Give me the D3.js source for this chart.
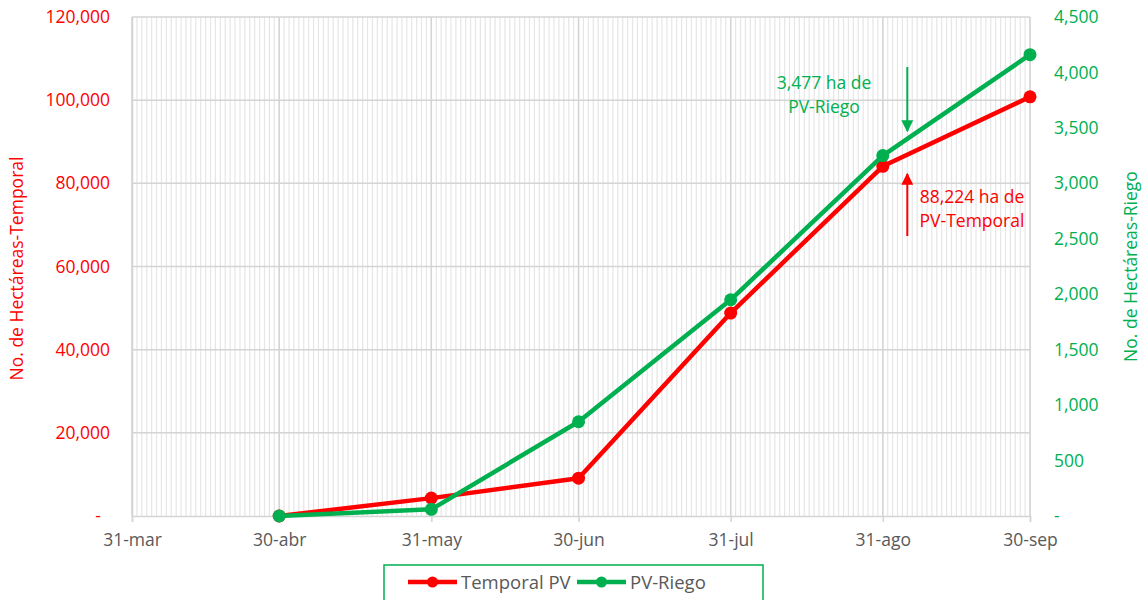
<!DOCTYPE html>
<html>
<head>
<meta charset="utf-8">
<script src="https://cdn.jsdelivr.net/npm/d3@7"></script>
<style>
  body { margin: 0; background: #fff; }
  svg { display: block; font-family: 'Open Sans', sans-serif; }
</style>
</head>
<body>
<svg id="chart" width="1145" height="600"></svg>
<script>
// fechas de corte (dia-mes), año arbitrario
const dates = ['2023-04-30', '2023-05-31', '2023-06-30', '2023-07-31', '2023-08-31', '2023-09-30']
const temporalPV = [0, 4300, 9100, 48800, 84100, 100800]
const riegoPV = [0, 60, 850, 1950, 3250, 4160]
const tickDates = ['2023-03-31', '2023-04-30', '2023-05-31', '2023-06-30', '2023-07-31', '2023-08-31', '2023-09-30']
const tickLabels = ['31-mar', '30-abr', '31-may', '30-jun', '31-jul', '31-ago', '30-sep']
const leftTicks = [0, 20000, 40000, 60000, 80000, 100000, 120000]
const rightTicks = [0, 500, 1000, 1500, 2000, 2500, 3000, 3500, 4000, 4500]

const red = '#ff0000'
const green = '#00b050'
const parse = d3.utcParse('%Y-%m-%d')

const svg = d3.select('#chart')
const pLeft = 132, pRight = 1030, pTop = 17, pBottom = 516

const x = d3.scaleUtc()
  .domain([parse(tickDates[0]), parse(tickDates[tickDates.length - 1])])
  .range([pLeft, pRight])
const yL = d3.scaleLinear().domain([0, 120000]).range([pBottom, pTop])
const yR = d3.scaleLinear().domain([0, 4500]).range([pBottom, pTop])

const fmt = d3.format(',')

// rejilla diaria
const days = d3.utcDay.range(x.domain()[0], d3.utcDay.offset(x.domain()[1], 1))
svg.append('g')
  .selectAll('line')
  .data(days)
  .join('line')
  .attr('x1', d => x(d)).attr('x2', d => x(d))
  .attr('y1', pTop).attr('y2', pBottom)
  .attr('stroke', '#e6e6e6')
  .attr('stroke-width', 1.2)

// rejilla horizontal
svg.append('g')
  .selectAll('line')
  .data(leftTicks.slice(1))
  .join('line')
  .attr('x1', pLeft).attr('x2', pRight)
  .attr('y1', d => yL(d)).attr('y2', d => yL(d))
  .attr('stroke', '#d4d4d4')
  .attr('stroke-width', 1.5)

// rejilla mensual
svg.append('g')
  .selectAll('line')
  .data(tickDates)
  .join('line')
  .attr('x1', d => x(parse(d))).attr('x2', d => x(parse(d)))
  .attr('y1', pTop).attr('y2', pBottom)
  .attr('stroke', '#d4d4d4')
  .attr('stroke-width', 1.5)

// eje x
const xAxis = svg.append('g')
  .attr('transform', `translate(0,${pBottom})`)
  .call(d3.axisBottom(x)
    .tickValues(tickDates.map(parse))
    .tickFormat((d, i) => tickLabels[i])
    .tickSize(6)
    .tickPadding(12))
xAxis.select('.domain').attr('stroke', '#d4d4d4').attr('stroke-width', 1.5)
xAxis.selectAll('.tick line').attr('stroke', '#d4d4d4').attr('stroke-width', 1.5)
xAxis.selectAll('.tick text')
  .attr('fill', '#595959')
  .style('font-size', '17.5px')
  .style('font-family', "'Open Sans', sans-serif")

// eje izquierdo
const lAxis = svg.append('g')
  .attr('transform', `translate(${pLeft},0)`)
  .call(d3.axisLeft(yL)
    .tickValues(leftTicks)
    .tickFormat(d => d === 0 ? '-  ' : fmt(d))
    .tickSize(0)
    .tickPadding(22))
lAxis.select('.domain').attr('stroke', '#d4d4d4').attr('stroke-width', 1.5)
lAxis.selectAll('.tick text')
  .attr('fill', red)
  .style('font-size', '17.5px')
  .style('white-space', 'pre')
  .style('font-family', "'Open Sans', sans-serif")

// eje derecho
const rAxis = svg.append('g')
  .attr('transform', `translate(${pRight},0)`)
  .call(d3.axisRight(yR)
    .tickValues(rightTicks)
    .tickFormat(d => d === 0 ? '-' : fmt(d))
    .tickSize(0)
    .tickPadding(24))
rAxis.select('.domain').remove()
rAxis.selectAll('.tick text')
  .attr('fill', green)
  .style('font-size', '17.5px')
  .style('white-space', 'pre')
  .style('font-family', "'Open Sans', sans-serif")

// titulos de ejes
svg.append('text')
  .attr('transform', `translate(23,${(pTop + pBottom) / 2 + 2}) rotate(-90)`)
  .attr('text-anchor', 'middle')
  .attr('fill', red)
  .style('font-size', '17.5px')
  .text('No. de Hectáreas-Temporal')
svg.append('text')
  .attr('transform', `translate(1137,${(pTop + pBottom) / 2}) rotate(-90)`)
  .attr('text-anchor', 'middle')
  .attr('fill', green)
  .style('font-size', '17.5px')
  .text('No. de Hectáreas-Riego')

// series
const series = [
  { name: 'Temporal PV', values: temporalPV, y: yL, color: red },
  { name: 'PV-Riego', values: riegoPV, y: yR, color: green }
]
series.forEach(s => {
  const pts = dates.map((d, i) => [parse(d), s.values[i]])
  const g = svg.append('g')
  g.append('path')
    .datum(pts)
    .attr('fill', 'none')
    .attr('stroke', s.color)
    .attr('stroke-width', 4.5)
    .attr('stroke-linejoin', 'round')
    .attr('d', d3.line().x(d => x(d[0])).y(d => s.y(d[1])))
  g.selectAll('circle')
    .data(pts)
    .join('circle')
    .attr('cx', d => x(d[0]))
    .attr('cy', d => s.y(d[1]))
    .attr('r', 6.5)
    .attr('fill', s.color)
})

// anotaciones
const defs = svg.append('defs')
;[['ahG', green], ['ahR', red]].forEach(([id, c]) => {
  defs.append('marker')
    .attr('id', id)
    .attr('viewBox', '0 0 10 10')
    .attr('refX', 9).attr('refY', 5)
    .attr('markerWidth', 6).attr('markerHeight', 6)
    .attr('orient', 'auto')
    .append('path')
    .attr('d', 'M0,0 L10,5 L0,10 Z')
    .attr('fill', c)
})
const annX = x(parse('2023-09-05'))
svg.append('line')
  .attr('x1', annX).attr('x2', annX)
  .attr('y1', 67).attr('y2', 131)
  .attr('stroke', green).attr('stroke-width', 2)
  .attr('marker-end', 'url(#ahG)')
svg.append('line')
  .attr('x1', annX).attr('x2', annX)
  .attr('y1', 236).attr('y2', 174)
  .attr('stroke', red).attr('stroke-width', 2)
  .attr('marker-end', 'url(#ahR)')

const gTxt = svg.append('text')
  .attr('text-anchor', 'middle')
  .attr('fill', green)
  .style('font-size', '17.5px')
gTxt.append('tspan').attr('x', 824).attr('y', 89).text('3,477 ha de')
gTxt.append('tspan').attr('x', 824).attr('y', 113).text('PV-Riego')

const rTxt = svg.append('text')
  .attr('text-anchor', 'middle')
  .attr('fill', red)
  .style('font-size', '17.5px')
rTxt.append('tspan').attr('x', 972).attr('y', 203).text('88,224 ha de')
rTxt.append('tspan').attr('x', 972).attr('y', 227).text('PV-Temporal')

// leyenda
const legend = svg.append('g')
legend.append('rect')
  .attr('x', 384).attr('y', 565)
  .attr('width', 379).attr('height', 50)
  .attr('fill', '#fff')
  .attr('stroke', green)
  .attr('stroke-width', 1.5)
const legX = [408, 577]
series.forEach((s, i) => {
  const lg = legend.append('g').attr('transform', `translate(${legX[i]},582)`)
  lg.append('line')
    .attr('x1', 0).attr('x2', 49)
    .attr('stroke', s.color).attr('stroke-width', 4.5)
  lg.append('circle').attr('cx', 24.5).attr('r', 5.5).attr('fill', s.color)
  lg.append('text')
    .attr('x', 53).attr('y', 6.5)
    .attr('fill', '#595959')
    .style('font-size', '18.5px')
    .text(s.name)
})
</script>
</body>
</html>
